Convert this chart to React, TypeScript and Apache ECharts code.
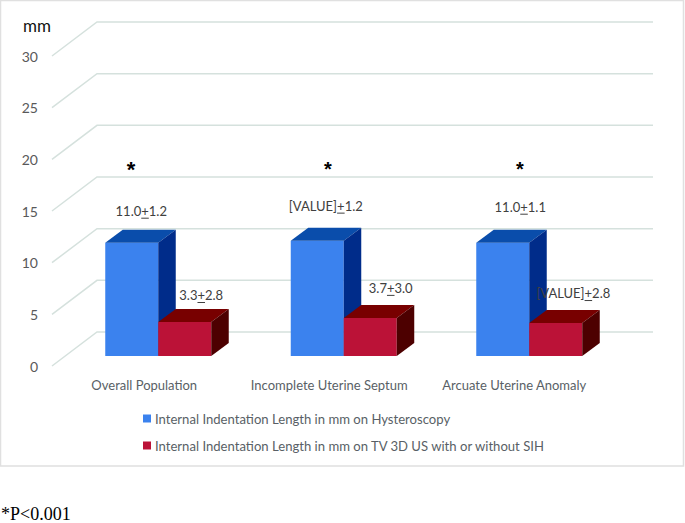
import React, { useEffect, useRef } from "react";
import * as echarts from "echarts";

const categories = ["Overall Population", "Incomplete Uterine Septum", "Arcuate Uterine Anomaly"];
const seriesNames = [
  "Internal Indentation Length in mm on Hysteroscopy",
  "Internal Indentation Length in mm on TV 3D US with or without SIH",
];
const hysteroscopyValues = [11.0, 11.2, 11.0];
const ultrasoundValues = [3.3, 3.7, 3.2];
const hysteroscopyLabels = ["11.0+1.2", "[VALUE]+1.2", "11.0+1.1"];
const ultrasoundLabels = ["3.3+2.8", "3.7+3.0", "[VALUE]+2.8"];
const tickValues = [0, 5, 10, 15, 20, 25, 30];
const significance = ["*", "*", "*"];
const footnote = "*P<0.001";
const unit = "mm";

const FONT = "Lato, sans-serif";
const LABEL_SIZE = 13;
const DEPTH_X = 17.5;
const DEPTH_Y = -13;

// label offset [dx, dy] from the bar's front-top centre
const blueOffsets = [[9.5, -32], [8.5, -35], [17.5, -36]];
const redOffsets = [[16.5, -27], [20.5, -30], [17.5, -30]];
const axisLabelShift = [28, 29, 30];

let measureCtx: CanvasRenderingContext2D | null = null;
function textWidth(t: string) {
  if (!measureCtx) measureCtx = document.createElement("canvas").getContext("2d");
  measureCtx!.font = `${LABEL_SIZE}px ${FONT}`;
  return measureCtx!.measureText(t).width;
}

function barRenderer(side: -1 | 1, colors: { front: string; top: string; side: string }, labels: string[], offsets: number[][]) {
  return (params: any, api: any) => {
    const i = api.value(0);
    const p = api.coord([i, api.value(1)]);
    const base = api.coord([i, 0]);
    const w = api.size([1, 0])[0] * 0.2857;
    const x0 = side < 0 ? p[0] - w : p[0];
    const x1 = x0 + w;
    const yt = p[1];
    const yb = base[1];
    const label = labels[i];
    const cx = (x0 + x1) / 2 + offsets[i][0];
    const cy = yt + offsets[i][1];
    const total = textWidth(label);
    const plusIdx = label.indexOf("+");
    const before = textWidth(label.slice(0, plusIdx));
    const plusW = textWidth("+");
    const ux = cx - total / 2 + before;
    return {
      type: "group",
      children: [
        { type: "polygon", shape: { points: [[x0, yb], [x1, yb], [x1, yt], [x0, yt]] }, style: { fill: colors.front } },
        { type: "polygon", shape: { points: [[x0, yt], [x1, yt], [x1 + DEPTH_X, yt + DEPTH_Y], [x0 + DEPTH_X, yt + DEPTH_Y]] }, style: { fill: colors.top } },
        { type: "polygon", shape: { points: [[x1, yb], [x1 + DEPTH_X, yb + DEPTH_Y], [x1 + DEPTH_X, yt + DEPTH_Y], [x1, yt]] }, style: { fill: colors.side } },
        {
          type: "text",
          z2: 20,
          style: { text: label, x: cx, y: cy, align: "center", verticalAlign: "middle", fill: "#404040", font: `${LABEL_SIZE}px ${FONT}` },
        },
        {
          type: "line",
          z2: 20,
          shape: { x1: ux, y1: cy + 7.5, x2: ux + plusW, y2: cy + 7.5 },
          style: { stroke: "#404040", lineWidth: 1 },
        },
      ],
    };
  };
}

const wallRenderer = (params: any, api: any) => {
  const left = api.coord([0, api.value(0)]);
  const right = api.coord([1, api.value(0)]);
  return {
    type: "polyline",
    shape: { points: [left, [left[0] + 45, left[1] - 34], [right[0], right[1] - 34]] },
    style: { stroke: "#d5e1dd", lineWidth: 1.5, fill: "none" },
  };
};

export default function App() {
  const ref = useRef<HTMLDivElement>(null);
  useEffect(() => {
    const chart = echarts.init(ref.current!, null, { renderer: "svg" });
    chart.setOption({
      animation: false,
      backgroundColor: "#ffffff",
      textStyle: { fontFamily: FONT },
      grid: [
        { left: 52, top: 56, width: 601, height: 310 },
        { left: 65.5, top: 47, width: 556.5, height: 309 },
      ],
      xAxis: [
        { type: "value", gridIndex: 0, min: 0, max: 1, show: false },
        {
          type: "category",
          gridIndex: 1,
          data: categories,
          axisLine: { show: false },
          axisTick: { show: false },
          axisLabel: {
            margin: 22,
            interval: 0,
            hideOverlap: false,
            formatter: (v: string, i: number) => `{c${i}|${v}}`,
            rich: Object.fromEntries(
              axisLabelShift.map((s, i) => [
                `c${i}`,
                { fontFamily: FONT, fontSize: 13, color: "#595f66", padding: [0, s, 0, 0] },
              ])
            ),
          },
        },
      ],
      yAxis: [
        {
          type: "value",
          gridIndex: 0,
          min: 0,
          max: 30,
          interval: 5,
          axisLine: { show: false },
          axisTick: { show: false },
          splitLine: { show: false },
          axisLabel: { margin: 14, fontFamily: FONT, fontSize: 14, color: "#595959", padding: [3, 0, 0, 0] },
        },
        { type: "value", gridIndex: 1, min: 0, max: 30, interval: 5, show: false },
      ],
      legend: {
        orient: "vertical",
        left: 143,
        top: 412,
        padding: 0,
        itemWidth: 8,
        itemHeight: 8,
        itemGap: 14,
        icon: "rect",
        data: seriesNames,
        textStyle: { fontFamily: FONT, fontSize: 13.1, color: "#595f66", padding: [0, 0, 0, -1] },
      },
      series: [
        {
          type: "custom",
          name: "wall",
          xAxisIndex: 0,
          yAxisIndex: 0,
          z: 1,
          silent: true,
          clip: false,
          data: tickValues.map((v) => [v]),
          encode: { y: 0 },
          renderItem: wallRenderer,
        },
        {
          type: "custom",
          name: seriesNames[0],
          xAxisIndex: 1,
          yAxisIndex: 1,
          z: 3,
          clip: false,
          itemStyle: { color: "#3b82ee" },
          data: hysteroscopyValues.map((v, i) => [i, v]),
          encode: { x: 0, y: 1 },
          renderItem: barRenderer(-1, { front: "#3b82ee", top: "#0a4dab", side: "#002c8a" }, hysteroscopyLabels, blueOffsets),
        },
        {
          type: "custom",
          name: seriesNames[1],
          xAxisIndex: 1,
          yAxisIndex: 1,
          z: 4,
          clip: false,
          itemStyle: { color: "#bb1237" },
          data: ultrasoundValues.map((v, i) => [i, v]),
          encode: { x: 0, y: 1 },
          renderItem: barRenderer(1, { front: "#bb1237", top: "#780000", side: "#4d0000" }, ultrasoundLabels, redOffsets),
        },
      ],
      graphic: [
        { type: "rect", z: 0, silent: true, shape: { x: 0.5, y: 0.5, width: 683, height: 465.5 }, style: { fill: "none", stroke: "#e0e0e0", lineWidth: 1.5 } },
        { type: "text", x: 23, y: 25, style: { text: unit, font: `17px ${FONT}`, fill: "#111111", verticalAlign: "middle" } },
        { type: "text", x: 131, y: 169, style: { text: significance[0], font: `bold 22px "Liberation Sans", sans-serif`, fill: "#000000", align: "center", verticalAlign: "middle" } },
        { type: "text", x: 328, y: 169, style: { text: significance[1], font: `bold 20px "Liberation Sans", sans-serif`, fill: "#000000", align: "center", verticalAlign: "middle" } },
        { type: "text", x: 520, y: 169, style: { text: significance[2], font: `bold 20px "Liberation Sans", sans-serif`, fill: "#000000", align: "center", verticalAlign: "middle" } },
        { type: "text", x: 1, y: 513.5, style: { text: footnote, font: `18px "Liberation Serif", serif`, fill: "#000000", verticalAlign: "middle" } },
      ],
    });
    return () => chart.dispose();
  }, []);
  return <div ref={ref} style={{ position: "absolute", left: 0, top: 0, width: 685, height: 523 }} />;
}
